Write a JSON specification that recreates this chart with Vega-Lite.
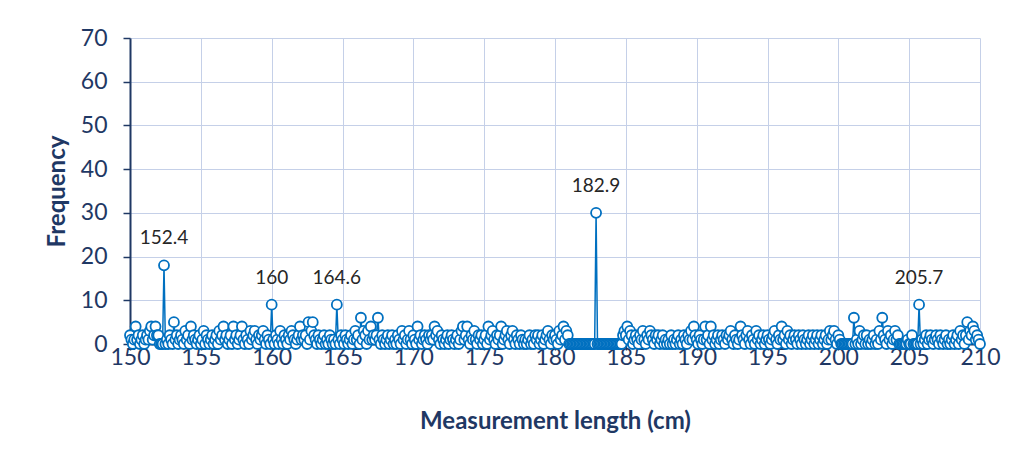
{
"$schema": "https://vega.github.io/schema/vega-lite/v6.json",
"width": 850, "height": 306,
"autosize": "none",
"padding": {"left": 130, "top": 38, "right": 33, "bottom": 117},
"background": "white",
"config": {"view": {"stroke": null}, "font": "Lato"},
"data": {"values": [
{"x":150.0,"f":2},{"x":150.1,"f":1},{"x":150.2,"f":0},{"x":150.3,"f":1},{"x":150.4,"f":4},{"x":150.5,"f":1},{"x":150.6,"f":2},{"x":150.7,"f":0},{"x":150.8,"f":1},{"x":150.9,"f":2},
{"x":151.0,"f":0},{"x":151.1,"f":1},{"x":151.2,"f":2},{"x":151.3,"f":1},{"x":151.4,"f":3},{"x":151.5,"f":4},{"x":151.6,"f":1},{"x":151.7,"f":2},{"x":151.8,"f":4},{"x":151.9,"f":2},
{"x":152.0,"f":2},{"x":152.1,"f":0},{"x":152.2,"f":0},{"x":152.3,"f":0},{"x":152.4,"f":18},{"x":152.5,"f":0},{"x":152.6,"f":1},{"x":152.7,"f":0},{"x":152.8,"f":2},{"x":152.9,"f":1},
{"x":153.0,"f":0},{"x":153.1,"f":5},{"x":153.2,"f":1},{"x":153.3,"f":2},{"x":153.4,"f":0},{"x":153.5,"f":1},{"x":153.6,"f":2},{"x":153.7,"f":1},{"x":153.8,"f":0},{"x":153.9,"f":3},
{"x":154.0,"f":1},{"x":154.1,"f":2},{"x":154.2,"f":0},{"x":154.3,"f":4},{"x":154.4,"f":1},{"x":154.5,"f":2},{"x":154.6,"f":1},{"x":154.7,"f":0},{"x":154.8,"f":1},{"x":154.9,"f":2},
{"x":155.0,"f":0},{"x":155.1,"f":1},{"x":155.2,"f":3},{"x":155.3,"f":0},{"x":155.4,"f":2},{"x":155.5,"f":1},{"x":155.6,"f":0},{"x":155.7,"f":1},{"x":155.8,"f":2},{"x":155.9,"f":0},
{"x":156.0,"f":1},{"x":156.1,"f":2},{"x":156.2,"f":0},{"x":156.3,"f":3},{"x":156.4,"f":1},{"x":156.5,"f":2},{"x":156.6,"f":4},{"x":156.7,"f":1},{"x":156.8,"f":2},{"x":156.9,"f":0},
{"x":157.0,"f":1},{"x":157.1,"f":2},{"x":157.2,"f":0},{"x":157.3,"f":4},{"x":157.4,"f":1},{"x":157.5,"f":2},{"x":157.6,"f":0},{"x":157.7,"f":1},{"x":157.8,"f":2},{"x":157.9,"f":4},
{"x":158.0,"f":1},{"x":158.1,"f":0},{"x":158.2,"f":2},{"x":158.3,"f":1},{"x":158.4,"f":0},{"x":158.5,"f":3},{"x":158.6,"f":1},{"x":158.7,"f":2},{"x":158.8,"f":3},{"x":158.9,"f":1},
{"x":159.0,"f":0},{"x":159.1,"f":2},{"x":159.2,"f":1},{"x":159.3,"f":2},{"x":159.4,"f":3},{"x":159.5,"f":1},{"x":159.6,"f":0},{"x":159.7,"f":2},{"x":159.8,"f":1},{"x":159.9,"f":0},
{"x":160.0,"f":9},{"x":160.1,"f":1},{"x":160.2,"f":0},{"x":160.3,"f":2},{"x":160.4,"f":1},{"x":160.5,"f":0},{"x":160.6,"f":3},{"x":160.7,"f":1},{"x":160.8,"f":0},{"x":160.9,"f":2},
{"x":161.0,"f":1},{"x":161.1,"f":0},{"x":161.2,"f":2},{"x":161.3,"f":1},{"x":161.4,"f":3},{"x":161.5,"f":2},{"x":161.6,"f":1},{"x":161.7,"f":0},{"x":161.8,"f":1},{"x":161.9,"f":2},
{"x":162.0,"f":4},{"x":162.1,"f":1},{"x":162.2,"f":2},{"x":162.3,"f":1},{"x":162.4,"f":2},{"x":162.5,"f":0},{"x":162.6,"f":5},{"x":162.7,"f":1},{"x":162.8,"f":3},{"x":162.9,"f":5},
{"x":163.0,"f":2},{"x":163.1,"f":1},{"x":163.2,"f":0},{"x":163.3,"f":2},{"x":163.4,"f":1},{"x":163.5,"f":0},{"x":163.6,"f":1},{"x":163.7,"f":2},{"x":163.8,"f":0},{"x":163.9,"f":1},
{"x":164.0,"f":0},{"x":164.1,"f":2},{"x":164.2,"f":1},{"x":164.3,"f":0},{"x":164.4,"f":1},{"x":164.5,"f":0},{"x":164.6,"f":9},{"x":164.7,"f":1},{"x":164.8,"f":0},{"x":164.9,"f":2},
{"x":165.0,"f":1},{"x":165.1,"f":0},{"x":165.2,"f":2},{"x":165.3,"f":1},{"x":165.4,"f":0},{"x":165.5,"f":1},{"x":165.6,"f":2},{"x":165.7,"f":0},{"x":165.8,"f":1},{"x":165.9,"f":3},
{"x":166.0,"f":1},{"x":166.1,"f":2},{"x":166.2,"f":0},{"x":166.3,"f":6},{"x":166.4,"f":1},{"x":166.5,"f":3},{"x":166.6,"f":2},{"x":166.7,"f":0},{"x":166.8,"f":3},{"x":166.9,"f":1},
{"x":167.0,"f":4},{"x":167.1,"f":1},{"x":167.2,"f":2},{"x":167.3,"f":1},{"x":167.4,"f":2},{"x":167.5,"f":6},{"x":167.6,"f":1},{"x":167.7,"f":0},{"x":167.8,"f":2},{"x":167.9,"f":1},
{"x":168.0,"f":0},{"x":168.1,"f":1},{"x":168.2,"f":2},{"x":168.3,"f":0},{"x":168.4,"f":1},{"x":168.5,"f":2},{"x":168.6,"f":0},{"x":168.7,"f":1},{"x":168.8,"f":0},{"x":168.9,"f":2},
{"x":169.0,"f":1},{"x":169.1,"f":0},{"x":169.2,"f":3},{"x":169.3,"f":1},{"x":169.4,"f":2},{"x":169.5,"f":0},{"x":169.6,"f":1},{"x":169.7,"f":3},{"x":169.8,"f":1},{"x":169.9,"f":0},
{"x":170.0,"f":2},{"x":170.1,"f":1},{"x":170.2,"f":0},{"x":170.3,"f":4},{"x":170.4,"f":1},{"x":170.5,"f":2},{"x":170.6,"f":0},{"x":170.7,"f":1},{"x":170.8,"f":2},{"x":170.9,"f":1},
{"x":171.0,"f":0},{"x":171.1,"f":2},{"x":171.2,"f":1},{"x":171.3,"f":2},{"x":171.4,"f":1},{"x":171.5,"f":4},{"x":171.6,"f":2},{"x":171.7,"f":3},{"x":171.8,"f":1},{"x":171.9,"f":0},
{"x":172.0,"f":2},{"x":172.1,"f":1},{"x":172.2,"f":0},{"x":172.3,"f":1},{"x":172.4,"f":2},{"x":172.5,"f":0},{"x":172.6,"f":1},{"x":172.7,"f":2},{"x":172.8,"f":1},{"x":172.9,"f":0},
{"x":173.0,"f":1},{"x":173.1,"f":2},{"x":173.2,"f":0},{"x":173.3,"f":1},{"x":173.4,"f":3},{"x":173.5,"f":4},{"x":173.6,"f":1},{"x":173.7,"f":2},{"x":173.8,"f":4},{"x":173.9,"f":1},
{"x":174.0,"f":0},{"x":174.1,"f":2},{"x":174.2,"f":1},{"x":174.3,"f":3},{"x":174.4,"f":1},{"x":174.5,"f":0},{"x":174.6,"f":2},{"x":174.7,"f":1},{"x":174.8,"f":2},{"x":174.9,"f":0},
{"x":175.0,"f":1},{"x":175.1,"f":2},{"x":175.2,"f":0},{"x":175.3,"f":4},{"x":175.4,"f":1},{"x":175.5,"f":2},{"x":175.6,"f":3},{"x":175.7,"f":1},{"x":175.8,"f":0},{"x":175.9,"f":2},
{"x":176.0,"f":1},{"x":176.1,"f":2},{"x":176.2,"f":4},{"x":176.3,"f":0},{"x":176.4,"f":1},{"x":176.5,"f":2},{"x":176.6,"f":3},{"x":176.7,"f":1},{"x":176.8,"f":0},{"x":176.9,"f":2},
{"x":177.0,"f":3},{"x":177.1,"f":1},{"x":177.2,"f":0},{"x":177.3,"f":2},{"x":177.4,"f":1},{"x":177.5,"f":0},{"x":177.6,"f":2},{"x":177.7,"f":1},{"x":177.8,"f":0},{"x":177.9,"f":1},
{"x":178.0,"f":0},{"x":178.1,"f":1},{"x":178.2,"f":2},{"x":178.3,"f":0},{"x":178.4,"f":1},{"x":178.5,"f":0},{"x":178.6,"f":2},{"x":178.7,"f":1},{"x":178.8,"f":2},{"x":178.9,"f":0},
{"x":179.0,"f":1},{"x":179.1,"f":2},{"x":179.2,"f":0},{"x":179.3,"f":1},{"x":179.4,"f":2},{"x":179.5,"f":3},{"x":179.6,"f":1},{"x":179.7,"f":0},{"x":179.8,"f":2},{"x":179.9,"f":1},
{"x":180.0,"f":2},{"x":180.1,"f":1},{"x":180.2,"f":0},{"x":180.3,"f":3},{"x":180.4,"f":1},{"x":180.5,"f":2},{"x":180.6,"f":4},{"x":180.7,"f":1},{"x":180.8,"f":3},{"x":180.9,"f":2},
{"x":181.0,"f":0},{"x":181.1,"f":0},{"x":181.2,"f":0},{"x":181.3,"f":0},{"x":181.4,"f":0},{"x":181.5,"f":0},{"x":181.6,"f":0},{"x":181.7,"f":0},{"x":181.8,"f":0},{"x":181.9,"f":0},
{"x":182.0,"f":0},{"x":182.1,"f":0},{"x":182.2,"f":0},{"x":182.3,"f":0},{"x":182.4,"f":0},{"x":182.5,"f":0},{"x":182.6,"f":0},{"x":182.7,"f":0},{"x":182.8,"f":0},{"x":182.9,"f":30},
{"x":183.0,"f":0},{"x":183.1,"f":0},{"x":183.2,"f":0},{"x":183.3,"f":0},{"x":183.4,"f":0},{"x":183.5,"f":0},{"x":183.6,"f":0},{"x":183.7,"f":0},{"x":183.8,"f":0},{"x":183.9,"f":0},
{"x":184.0,"f":0},{"x":184.1,"f":0},{"x":184.2,"f":0},{"x":184.3,"f":0},{"x":184.4,"f":0},{"x":184.5,"f":0},{"x":184.6,"f":0},{"x":184.7,"f":0},{"x":184.8,"f":2},{"x":184.9,"f":3},
{"x":185.0,"f":2},{"x":185.1,"f":4},{"x":185.2,"f":1},{"x":185.3,"f":3},{"x":185.4,"f":2},{"x":185.5,"f":0},{"x":185.6,"f":1},{"x":185.7,"f":2},{"x":185.8,"f":1},{"x":185.9,"f":0},
{"x":186.0,"f":2},{"x":186.1,"f":1},{"x":186.2,"f":3},{"x":186.3,"f":1},{"x":186.4,"f":0},{"x":186.5,"f":2},{"x":186.6,"f":1},{"x":186.7,"f":3},{"x":186.8,"f":2},{"x":186.9,"f":1},
{"x":187.0,"f":0},{"x":187.1,"f":2},{"x":187.2,"f":1},{"x":187.3,"f":2},{"x":187.4,"f":0},{"x":187.5,"f":1},{"x":187.6,"f":2},{"x":187.7,"f":0},{"x":187.8,"f":1},{"x":187.9,"f":0},
{"x":188.0,"f":1},{"x":188.1,"f":0},{"x":188.2,"f":2},{"x":188.3,"f":0},{"x":188.4,"f":1},{"x":188.5,"f":0},{"x":188.6,"f":1},{"x":188.7,"f":2},{"x":188.8,"f":0},{"x":188.9,"f":1},
{"x":189.0,"f":0},{"x":189.1,"f":2},{"x":189.2,"f":1},{"x":189.3,"f":0},{"x":189.4,"f":2},{"x":189.5,"f":1},{"x":189.6,"f":3},{"x":189.7,"f":1},{"x":189.8,"f":4},{"x":189.9,"f":2},
{"x":190.0,"f":1},{"x":190.1,"f":0},{"x":190.2,"f":2},{"x":190.3,"f":1},{"x":190.4,"f":0},{"x":190.5,"f":1},{"x":190.6,"f":4},{"x":190.7,"f":1},{"x":190.8,"f":2},{"x":190.9,"f":0},
{"x":191.0,"f":4},{"x":191.1,"f":1},{"x":191.2,"f":2},{"x":191.3,"f":0},{"x":191.4,"f":1},{"x":191.5,"f":2},{"x":191.6,"f":0},{"x":191.7,"f":1},{"x":191.8,"f":2},{"x":191.9,"f":1},
{"x":192.0,"f":0},{"x":192.1,"f":2},{"x":192.2,"f":1},{"x":192.3,"f":2},{"x":192.4,"f":3},{"x":192.5,"f":1},{"x":192.6,"f":0},{"x":192.7,"f":2},{"x":192.8,"f":1},{"x":192.9,"f":0},
{"x":193.0,"f":1},{"x":193.1,"f":4},{"x":193.2,"f":2},{"x":193.3,"f":1},{"x":193.4,"f":0},{"x":193.5,"f":2},{"x":193.6,"f":3},{"x":193.7,"f":1},{"x":193.8,"f":0},{"x":193.9,"f":2},
{"x":194.0,"f":1},{"x":194.1,"f":0},{"x":194.2,"f":3},{"x":194.3,"f":1},{"x":194.4,"f":2},{"x":194.5,"f":0},{"x":194.6,"f":1},{"x":194.7,"f":2},{"x":194.8,"f":0},{"x":194.9,"f":1},
{"x":195.0,"f":2},{"x":195.1,"f":1},{"x":195.2,"f":0},{"x":195.3,"f":1},{"x":195.4,"f":2},{"x":195.5,"f":3},{"x":195.6,"f":1},{"x":195.7,"f":0},{"x":195.8,"f":2},{"x":195.9,"f":1},
{"x":196.0,"f":4},{"x":196.1,"f":1},{"x":196.2,"f":2},{"x":196.3,"f":0},{"x":196.4,"f":3},{"x":196.5,"f":1},{"x":196.6,"f":2},{"x":196.7,"f":0},{"x":196.8,"f":1},{"x":196.9,"f":2},
{"x":197.0,"f":1},{"x":197.1,"f":0},{"x":197.2,"f":2},{"x":197.3,"f":1},{"x":197.4,"f":0},{"x":197.5,"f":2},{"x":197.6,"f":1},{"x":197.7,"f":0},{"x":197.8,"f":1},{"x":197.9,"f":2},
{"x":198.0,"f":0},{"x":198.1,"f":1},{"x":198.2,"f":2},{"x":198.3,"f":0},{"x":198.4,"f":1},{"x":198.5,"f":2},{"x":198.6,"f":0},{"x":198.7,"f":1},{"x":198.8,"f":2},{"x":198.9,"f":0},
{"x":199.0,"f":1},{"x":199.1,"f":2},{"x":199.2,"f":0},{"x":199.3,"f":1},{"x":199.4,"f":3},{"x":199.5,"f":1},{"x":199.6,"f":2},{"x":199.7,"f":3},{"x":199.8,"f":1},{"x":199.9,"f":0},
{"x":200.0,"f":2},{"x":200.1,"f":1},{"x":200.2,"f":0},{"x":200.3,"f":0},{"x":200.4,"f":0},{"x":200.5,"f":0},{"x":200.6,"f":0},{"x":200.7,"f":0},{"x":200.8,"f":0},{"x":200.9,"f":0},
{"x":201.0,"f":0},{"x":201.1,"f":6},{"x":201.2,"f":0},{"x":201.3,"f":1},{"x":201.4,"f":0},{"x":201.5,"f":3},{"x":201.6,"f":0},{"x":201.7,"f":1},{"x":201.8,"f":2},{"x":201.9,"f":0},
{"x":202.0,"f":2},{"x":202.1,"f":0},{"x":202.2,"f":1},{"x":202.3,"f":0},{"x":202.4,"f":1},{"x":202.5,"f":2},{"x":202.6,"f":0},{"x":202.7,"f":1},{"x":202.8,"f":0},{"x":202.9,"f":3},
{"x":203.0,"f":1},{"x":203.1,"f":6},{"x":203.2,"f":2},{"x":203.3,"f":1},{"x":203.4,"f":0},{"x":203.5,"f":3},{"x":203.6,"f":1},{"x":203.7,"f":2},{"x":203.8,"f":0},{"x":203.9,"f":1},
{"x":204.0,"f":3},{"x":204.1,"f":1},{"x":204.2,"f":2},{"x":204.3,"f":0},{"x":204.4,"f":0},{"x":204.5,"f":0},{"x":204.6,"f":0},{"x":204.7,"f":0},{"x":204.8,"f":0},{"x":204.9,"f":1},
{"x":205.0,"f":0},{"x":205.1,"f":0},{"x":205.2,"f":2},{"x":205.3,"f":0},{"x":205.4,"f":0},{"x":205.5,"f":0},{"x":205.6,"f":0},{"x":205.7,"f":9},{"x":205.8,"f":0},{"x":205.9,"f":1},
{"x":206.0,"f":0},{"x":206.1,"f":1},{"x":206.2,"f":2},{"x":206.3,"f":0},{"x":206.4,"f":1},{"x":206.5,"f":2},{"x":206.6,"f":1},{"x":206.7,"f":0},{"x":206.8,"f":1},{"x":206.9,"f":2},
{"x":207.0,"f":1},{"x":207.1,"f":0},{"x":207.2,"f":2},{"x":207.3,"f":1},{"x":207.4,"f":0},{"x":207.5,"f":1},{"x":207.6,"f":2},{"x":207.7,"f":0},{"x":207.8,"f":1},{"x":207.9,"f":0},
{"x":208.0,"f":1},{"x":208.1,"f":2},{"x":208.2,"f":0},{"x":208.3,"f":1},{"x":208.4,"f":2},{"x":208.5,"f":0},{"x":208.6,"f":3},{"x":208.7,"f":1},{"x":208.8,"f":2},{"x":208.9,"f":0},
{"x":209.0,"f":2},{"x":209.1,"f":5},{"x":209.2,"f":1},{"x":209.3,"f":3},{"x":209.4,"f":2},{"x":209.5,"f":4},{"x":209.6,"f":3},{"x":209.7,"f":1},{"x":209.8,"f":2},{"x":209.9,"f":1},
{"x":210.0,"f":0}
]},
"encoding": {
  "x": {"field": "x", "type": "quantitative",
    "scale": {"domain": [150, 210], "nice": false, "zero": false},
    "axis": {"values": [150,155,160,165,170,175,180,185,190,195,200,205,210],
      "grid": true, "gridColor": "#C5D0E8", "gridWidth": 1,
      "domainColor": "#1F3864", "domainWidth": 2,
      "tickColor": "#1F3864", "tickSize": 6, "tickWidth": 1.5,
      "labelFontSize": 23, "labelColor": "#1F3864", "labelPadding": -4, "labelFont": "Lato",
      "labelFlush": false, "labelOverlap": false,
      "title": "Measurement length (cm)", "titleFontSize": 24, "titleFontWeight": "bold",
      "titleColor": "#1F3864", "titlePadding": 40, "titleFont": "Lato"}},
  "y": {"field": "f", "type": "quantitative",
    "scale": {"domain": [0, 70], "nice": false},
    "axis": {"values": [0,10,20,30,40,50,60,70],
      "grid": true, "gridColor": "#C5D0E8", "gridWidth": 1,
      "domainColor": "#1F3864", "domainWidth": 2,
      "tickColor": "#1F3864", "tickSize": 7, "tickWidth": 1.5,
      "labelFontSize": 23, "labelColor": "#1F3864", "labelPadding": 16, "labelFont": "Lato",
      "labelFlush": false,
      "title": "Frequency", "titleFontSize": 24, "titleFontWeight": "bold",
      "titleColor": "#1F3864", "titlePadding": 11, "titleFont": "Lato"}}
},
"layer": [
  {"mark": {"type": "line", "color": "#0070C0", "strokeWidth": 1.5}},
  {"mark": {"type": "point", "shape": "circle", "filled": true, "fill": "white", "stroke": "#0070C0", "strokeWidth": 1.8, "size": 100, "opacity": 1}},
  {"transform": [{"filter": "datum.f >= 9"}],
   "mark": {"type": "text", "dy": -27, "fontSize": 19, "color": "#262626", "font": "Lato"},
   "encoding": {"text": {"field": "x", "type": "nominal"}}}
]
}
